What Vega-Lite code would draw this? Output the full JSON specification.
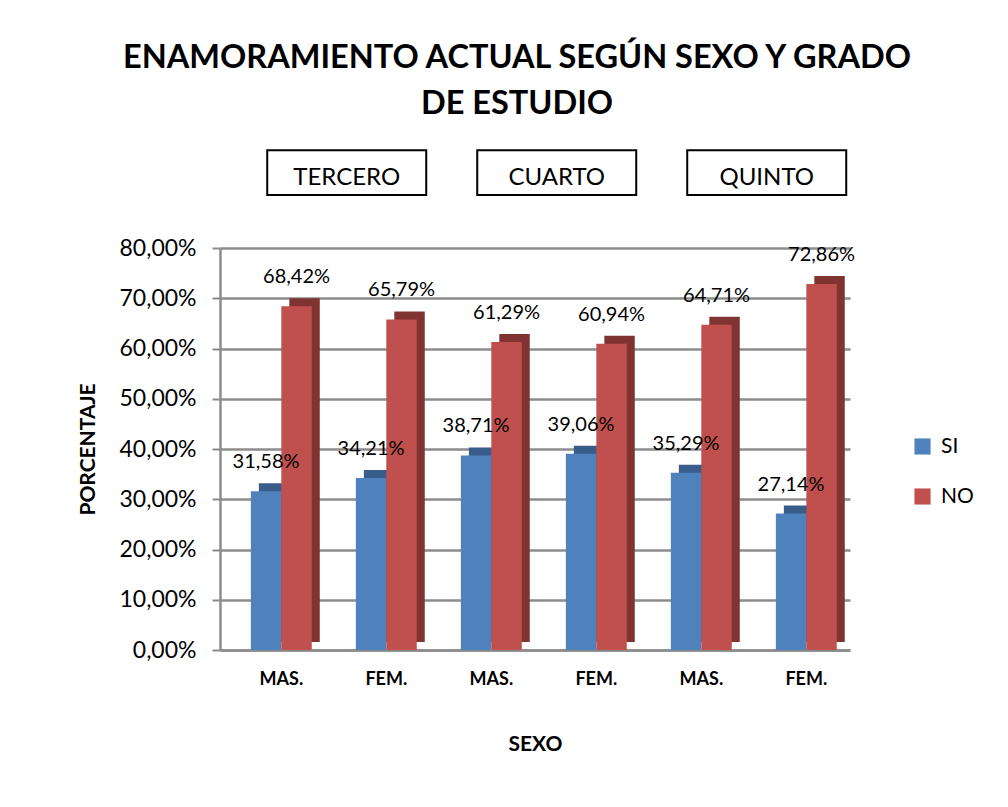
{
  "$schema": "https://vega.github.io/schema/vega-lite/v6.json",
  "autosize": "none",
  "width": 630,
  "height": 402,
  "padding": {"left": 220, "top": 248, "right": 158, "bottom": 157},
  "background": "white",
  "config": {
    "font": "Lato",
    "view": {"stroke": null},
    "locale": {"number": {"decimal": ",", "thousands": ".", "grouping": [3], "currency": ["", " €"]}}
  },
  "title": {
    "text": ["ENAMORAMIENTO ACTUAL SEGÚN SEXO Y GRADO", "DE ESTUDIO"],
    "fontSize": 32.5,
    "fontWeight": "bold",
    "color": "black",
    "lineHeight": 46,
    "anchor": "middle",
    "dx": -18,
    "offset": 26
  },
  "datasets": {
    "bars": [
      {"cat": "TERCERO|MAS.", "serie": "SI", "valor": 0.3158},
      {"cat": "TERCERO|MAS.", "serie": "NO", "valor": 0.6842},
      {"cat": "TERCERO|FEM.", "serie": "SI", "valor": 0.3421},
      {"cat": "TERCERO|FEM.", "serie": "NO", "valor": 0.6579},
      {"cat": "CUARTO|MAS.", "serie": "SI", "valor": 0.3871},
      {"cat": "CUARTO|MAS.", "serie": "NO", "valor": 0.6129},
      {"cat": "CUARTO|FEM.", "serie": "SI", "valor": 0.3906},
      {"cat": "CUARTO|FEM.", "serie": "NO", "valor": 0.6094},
      {"cat": "QUINTO|MAS.", "serie": "SI", "valor": 0.3529},
      {"cat": "QUINTO|MAS.", "serie": "NO", "valor": 0.6471},
      {"cat": "QUINTO|FEM.", "serie": "SI", "valor": 0.2714},
      {"cat": "QUINTO|FEM.", "serie": "NO", "valor": 0.7286}
    ],
    "grados": [
      {"grado": "TERCERO", "cat": "TERCERO|FEM.", "valor": 0.95},
      {"grado": "CUARTO", "cat": "CUARTO|FEM.", "valor": 0.95},
      {"grado": "QUINTO", "cat": "QUINTO|FEM.", "valor": 0.95}
    ]
  },
  "encoding": {
    "x": {"field": "cat", "type": "nominal", "sort": null,
          "scale": {"paddingInner": 0.42, "paddingOuter": 0.21, "align": 0.7},
          "axis": {"labelExpr": "split(datum.label, '|')[1]", "title": "SEXO",
                   "labelFontSize": 18, "labelFontWeight": "bold", "labelColor": "black", "labelAngle": 0,
                   "labelPadding": 20, "ticks": false, "domainColor": "#8c8c8c", "domainWidth": 2.5,
                   "titleFontSize": 21, "titleFontWeight": "bold", "titleColor": "black", "titlePadding": 45}},
    "y": {"field": "valor", "type": "quantitative",
          "scale": {"domain": [0, 0.8]},
          "axis": {"format": ".2%", "values": [0, 0.1, 0.2, 0.3, 0.4, 0.5, 0.6, 0.7, 0.8],
                   "labelOverlap": false,
                   "labelFontSize": 23, "labelColor": "black", "labelPadding": 16,
                   "tickSize": 8, "tickColor": "#8c8c8c", "tickWidth": 2,
                   "domainColor": "#8c8c8c", "domainWidth": 2.5,
                   "gridColor": "#8c8c8c", "gridWidth": 2.5,
                   "title": "PORCENTAJE", "titleFontSize": 21, "titleFontWeight": "bold",
                   "titleColor": "black", "titlePadding": 20}}
  },
  "resolve": {"scale": {"xOffset": "independent"}},
  "layer": [
    {
      "data": {"name": "bars"},
      "mark": {"type": "bar", "yOffset": -8, "clip": false},
      "encoding": {
        "xOffset": {"field": "serie", "type": "nominal", "sort": ["SI", "NO"],
                    "scale": {"range": [8, 68.9]}},
        "color": {"condition": {"test": "datum.serie === 'SI'", "value": "#385D8A"}, "value": "#7F3432"}
      }
    },
    {
      "data": {"name": "bars"},
      "mark": {"type": "bar"},
      "encoding": {
        "xOffset": {"field": "serie", "type": "nominal", "sort": ["SI", "NO"]},
        "color": {"field": "serie", "type": "nominal",
                  "scale": {"domain": ["SI", "NO"], "range": ["#4F81BD", "#C0504D"]},
                  "legend": {"title": null, "orient": "none", "legendX": 692, "legendY": 188,
                             "labelFontSize": 21, "labelColor": "black", "symbolType": "square",
                             "symbolSize": 260, "rowPadding": 28, "labelOffset": 8, "symbolStrokeWidth": 0}}
      }
    },
    {
      "data": {"name": "bars"},
      "mark": {"type": "text", "baseline": "bottom", "dy": -19, "fontSize": 20, "color": "black"},
      "encoding": {
        "xOffset": {"field": "serie", "type": "nominal", "sort": ["SI", "NO"]},
        "text": {"field": "valor", "type": "quantitative", "format": ".2%"}
      }
    },
    {
      "data": {"name": "grados"},
      "mark": {"type": "point", "shape": "M-1,-0.283H1V0.283H-1Z", "size": 25281, "filled": true,
               "fill": "white", "stroke": "black", "strokeWidth": 2, "opacity": 1, "clip": false},
      "encoding": {
        "x": {"field": "cat", "type": "nominal", "sort": null, "bandPosition": -0.15}
      }
    },
    {
      "data": {"name": "grados"},
      "mark": {"type": "text", "fontSize": 24, "color": "black", "baseline": "middle", "dy": 5, "clip": false},
      "encoding": {
        "x": {"field": "cat", "type": "nominal", "sort": null, "bandPosition": -0.15},
        "text": {"field": "grado", "type": "nominal"}
      }
    }
  ]
}
